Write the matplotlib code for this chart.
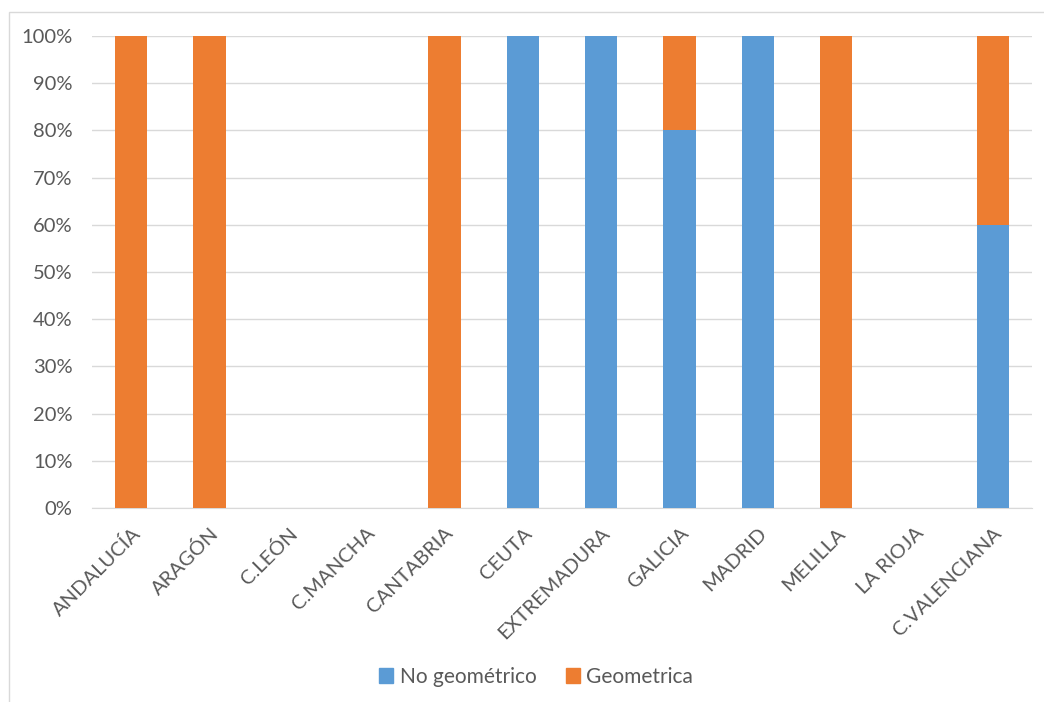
import matplotlib.pyplot as plt
import matplotlib.patches as mpatches
import numpy as np

categories = ["ANDALUCÍA", "ARAGÓN", "C.LEÓN", "C.MANCHA", "CANTABRIA", "CEUTA",
              "EXTREMADURA", "GALICIA", "MADRID", "MELILLA", "LA RIOJA", "C.VALENCIANA"]
no_geometrico = [0, 0, 0, 0, 0, 100, 100, 80, 100, 0, 0, 60]
geometrica = [100, 100, 0, 0, 100, 0, 0, 20, 0, 100, 0, 40]
series_names = ["No geométrico", "Geometrica"]
yticks = [0, 10, 20, 30, 40, 50, 60, 70, 80, 90, 100]

blue = "#5B9BD5"
orange = "#ED7D31"
text_color = "#595959"

plt.rcParams['font.family'] = ['Lato', 'DejaVu Sans']

fig = plt.figure(figsize=(10.44, 7.02), dpi=100)
# chart frame
fig.patches.append(mpatches.Rectangle((9 / 1044, -0.01), 1.02, 1 - 12 / 702 + 0.01,
                                      transform=fig.transFigure, fill=False,
                                      edgecolor="#D9D9D9", linewidth=1.0))

ax = fig.add_axes([92 / 1044, 1 - 508 / 702, (1032 - 92) / 1044, (508 - 36) / 702])
x = np.arange(len(categories))
w = 0.41
ax.bar(x, no_geometrico, w, color=blue, label=series_names[0], zorder=3)
ax.bar(x, geometrica, w, bottom=no_geometrico, color=orange, label=series_names[1], zorder=3)

ax.set_xlim(-0.5, len(categories) - 0.5)
ax.set_ylim(0, 100)
ax.set_yticks(yticks)
ax.set_yticklabels([f"{v}%" for v in yticks], fontsize=14.5, color=text_color)
ax.yaxis.grid(True, color="#D9D9D9", linewidth=1.0, zorder=0)
ax.tick_params(axis='y', length=0, pad=14)
ax.set_xticks(x)
ax.set_xticklabels(categories, rotation=45, ha='right', rotation_mode='anchor',
                   fontsize=14.5, color=text_color)
ax.tick_params(axis='x', length=0, pad=12)
for s in ["top", "right", "left"]:
    ax.spines[s].set_visible(False)
ax.spines["bottom"].set_color("#D9D9D9")

handles = [mpatches.Patch(color=blue), mpatches.Patch(color=orange)]
fig.legend(handles, series_names, loc="center", bbox_to_anchor=(536 / 1044, 1 - 677 / 702),
           ncol=2, frameon=False, fontsize=15, handlelength=0.7, handleheight=0.7,
           handletextpad=0.3, columnspacing=1.4, labelcolor=text_color)

fig.savefig("out.png", dpi=100)
